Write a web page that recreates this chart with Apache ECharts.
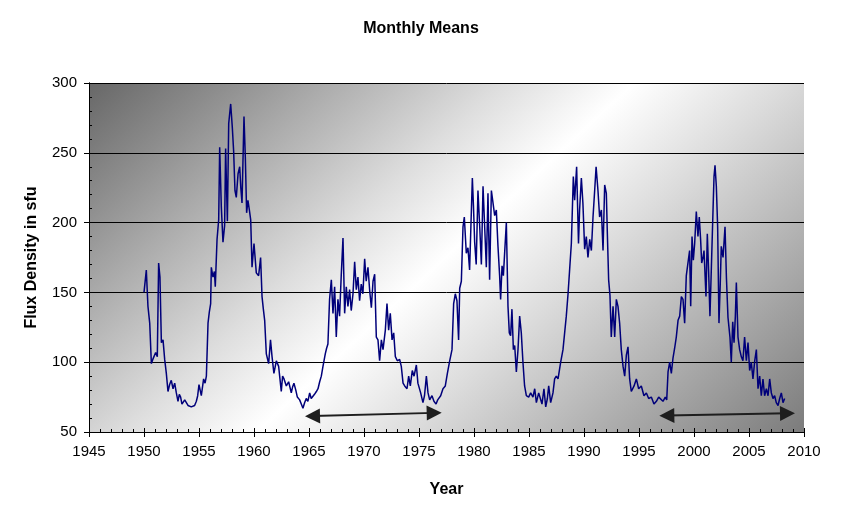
<!DOCTYPE html>
<html>
<head>
<meta charset="utf-8">
<script src="https://cdn.jsdelivr.net/npm/echarts@6/dist/echarts.min.js"></script>
<style>
html,body{margin:0;padding:0;background:#fff;}
#chart{width:842px;height:509px;}
</style>
</head>
<body>
<div id="chart"></div>
<script>
// ---- data (decimal year, flux in sfu) ----
const years = [
1950.00,1950.21,1950.36,1950.52,1950.67,1950.80,1950.97,1951.06,1951.21,1951.33,1951.45,1951.58,1951.73,1951.88,
1952.03,1952.18,1952.33,1952.48,1952.64,1952.79,1952.94,1953.09,1953.21,1953.33,1953.45,1953.55,1953.70,1953.85,
1954.00,1954.15,1954.30,1954.45,1954.60,1954.76,1954.88,1955.00,1955.21,1955.42,1955.55,1955.67,1955.82,1955.94,
1956.06,1956.12,1956.27,1956.40,1956.48,1956.64,1956.79,1956.88,1957.03,1957.18,1957.33,1957.42,1957.58,1957.70,
1957.88,1958.03,1958.15,1958.27,1958.39,1958.55,1958.70,1958.80,1958.91,1959.09,1959.21,1959.33,1959.45,1959.58,
1959.70,1959.82,1960.00,1960.21,1960.42,1960.60,1960.73,1960.85,1960.97,1961.12,1961.33,1961.50,1961.64,1961.81,
1962.03,1962.24,1962.36,1962.48,1962.60,1962.73,1962.94,1963.15,1963.39,1963.50,1963.63,1963.80,1963.94,1964.15,
1964.30,1964.45,1964.60,1964.75,1964.90,1965.06,1965.20,1965.36,1965.50,1965.67,1965.82,1965.97,1966.12,1966.27,
1966.48,1966.60,1966.72,1966.87,1967.03,1967.18,1967.33,1967.48,1967.63,1967.78,1967.93,1968.09,1968.24,1968.39,
1968.54,1968.69,1968.84,1969.00,1969.15,1969.30,1969.45,1969.60,1969.75,1969.90,1970.06,1970.20,1970.36,1970.52,
1970.67,1970.82,1970.97,1971.12,1971.27,1971.42,1971.58,1971.73,1971.94,1972.09,1972.24,1972.39,1972.55,1972.70,
1972.85,1973.03,1973.24,1973.39,1973.55,1973.70,1973.91,1974.06,1974.21,1974.39,1974.55,1974.76,1974.90,1975.15,
1975.36,1975.50,1975.67,1975.82,1975.97,1976.18,1976.36,1976.55,1976.70,1976.97,1977.18,1977.39,1977.58,1977.79,
1978.00,1978.15,1978.30,1978.45,1978.60,1978.70,1978.85,1979.00,1979.12,1979.30,1979.45,1979.60,1979.85,1979.95,
1980.06,1980.20,1980.36,1980.52,1980.67,1980.82,1980.97,1981.12,1981.27,1981.42,1981.58,1981.73,1981.88,1982.03,
1982.18,1982.33,1982.42,1982.55,1982.67,1982.79,1982.94,1983.09,1983.21,1983.33,1983.45,1983.58,1983.70,1983.85,
1984.00,1984.15,1984.30,1984.45,1984.60,1984.76,1984.97,1985.15,1985.36,1985.52,1985.67,1985.88,1986.06,1986.18,
1986.36,1986.52,1986.67,1986.79,1986.97,1987.18,1987.33,1987.48,1987.64,1987.88,1988.09,1988.24,1988.39,1988.55,
1988.70,1988.85,1989.03,1989.15,1989.33,1989.50,1989.60,1989.76,1989.90,1990.06,1990.21,1990.36,1990.52,1990.67,
1990.82,1990.97,1991.10,1991.27,1991.42,1991.58,1991.73,1991.88,1992.03,1992.12,1992.24,1992.36,1992.48,1992.64,
1992.79,1992.94,1993.09,1993.24,1993.39,1993.55,1993.70,1993.85,1994.00,1994.15,1994.30,1994.55,1994.76,1994.97,
1995.21,1995.45,1995.67,1995.88,1996.12,1996.36,1996.58,1996.79,1996.97,1997.18,1997.39,1997.52,1997.64,1997.79,
1997.94,1998.09,1998.24,1998.39,1998.55,1998.70,1998.85,1999.00,1999.15,1999.30,1999.45,1999.60,1999.70,1999.82,
1999.94,2000.06,2000.21,2000.36,2000.48,2000.60,2000.70,2000.82,2000.91,2001.09,2001.21,2001.33,2001.45,2001.58,
2001.73,2001.82,2001.91,2002.03,2002.15,2002.27,2002.39,2002.48,2002.64,2002.82,2002.95,2003.09,2003.27,2003.39,
2003.52,2003.64,2003.76,2003.85,2004.00,2004.15,2004.30,2004.45,2004.60,2004.76,2004.91,2005.06,2005.21,2005.36,
2005.52,2005.67,2005.82,2005.97,2006.12,2006.27,2006.42,2006.58,2006.73,2006.88,2007.03,2007.18,2007.33,2007.48,
2007.64,2007.79,2007.94,2008.09,2008.24
];
const flux = [
150,166,140,128,99,102,101,107,104,171,161,114,116,102,
92,79,84,87,81,85,78,72,77,75,70,70,73,72,
69,68,68,67,69,72,76,84,76,88,85,90,128,136,
142,168,161,165,154,188,202,254,211,186,198,253,201,271,
285,268,251,223,218,235,240,225,214,276,247,207,216,209,
202,168,185,164,162,175,147,138,130,106,99,116,104,92,
101,97,88,79,90,88,83,86,78,82,85,80,75,73,
70,67,71,74,72,78,74,75,77,79,81,86,90,97,
106,110,113,145,159,135,154,118,145,133,162,189,135,154,
140,152,137,149,172,152,161,144,156,149,174,158,168,151,
139,158,163,118,116,101,116,109,123,142,123,135,116,121,
104,101,102,97,85,83,81,90,83,94,90,98,85,78,
71,76,90,78,73,76,72,70,73,76,81,83,92,101,
109,142,149,144,116,153,158,197,204,178,182,166,232,212,
186,170,223,197,170,226,227,168,221,159,223,222,205,209,
183,162,145,169,162,161,200,140,121,119,138,109,112,93,
109,133,121,100,83,76,75,78,75,81,71,78,77,70,
81,68,74,83,71,78,88,90,88,100,109,121,133,149,
167,185,233,216,240,185,209,232,214,181,190,175,188,180,
204,223,240,223,204,209,180,227,221,193,159,148,118,140,
118,145,140,128,109,97,90,105,111,88,79,83,88,81,
83,76,78,74,75,70,72,75,76,72,75,73,93,100,
92,103,110,118,130,133,147,145,128,162,162,180,140,190,
173,185,208,190,204,188,171,175,180,147,192,165,133,168,
209,233,241,226,197,128,157,183,175,197,160,132,118,100,
129,114,133,157,118,109,104,101,118,101,114,94,100,88,
101,109,81,90,76,88,76,81,76,88,78,74,76,71,
69,74,78,71,74
];
// axis ticks
const xTicks = {min: 1945, max: 2010, step: 5};
const yTicks = {min: 50, max: 300, step: 50};
// annotation arrows (start / end in data coordinates)
const arrowFrom = [[1965.32, 61.4], [1997.53, 61.8]];
const arrowTo   = [[1976.38, 63.7], [2008.50, 63.4]];

const points = years.map((y, i) => [y, flux[i]]);

const chart = echarts.init(document.getElementById('chart'), null, {renderer: 'canvas'});
const FONT = '"Liberation Sans", Arial, Helvetica, sans-serif';

const bg = new echarts.graphic.LinearGradient(195, -15, 697, 529, [
  {offset: 0.00, color: '#676767'},
  {offset: 0.12, color: '#8c8c8c'},
  {offset: 0.22, color: '#acacac'},
  {offset: 0.38, color: '#dedede'},
  {offset: 0.50, color: '#ffffff'},
  {offset: 0.64, color: '#dcdcdc'},
  {offset: 0.85, color: '#a4a4a4'},
  {offset: 1.00, color: '#7c7c7c'}
], true);

const baseX = {
  type: 'value', min: xTicks.min, max: xTicks.max, interval: xTicks.step,
  position: 'bottom',
  axisLine: {show: true, lineStyle: {color: '#000', width: 1}},
  splitLine: {show: false}
};
const baseY = {
  type: 'value', min: yTicks.min, max: yTicks.max, interval: yTicks.step,
  position: 'left',
  axisLine: {show: true, lineStyle: {color: '#000', width: 1}}
};

chart.setOption({
  animation: false,
  backgroundColor: '#ffffff',
  textStyle: {fontFamily: FONT},
  title: {
    text: 'Monthly Means', left: 'center', top: 16,
    textStyle: {fontFamily: FONT, fontSize: 16, fontWeight: 'bold', color: '#000'}
  },
  grid: {
    left: 89, right: 38, top: 83, bottom: 77,
    show: true, backgroundColor: bg, borderWidth: 0
  },
  xAxis: [
    Object.assign({}, baseX, {
      name: 'Year', nameLocation: 'middle', nameGap: 50,
      nameTextStyle: {fontFamily: FONT, fontSize: 16, fontWeight: 'bold', color: '#000'},
      axisTick: {show: true, inside: true, length: 4, lineStyle: {color: '#000'}},
      minorTick: {show: true, splitNumber: 5, length: 3, lineStyle: {color: '#000'}},
      axisLabel: {show: true, margin: 12, color: '#000', fontFamily: FONT, fontSize: 15,
                  formatter: v => String(v)}
    }),
    Object.assign({}, baseX, {
      axisTick: {show: true, inside: false, length: 5, lineStyle: {color: '#000'}},
      axisLabel: {show: false}
    })
  ],
  yAxis: [
    Object.assign({}, baseY, {
      name: 'Flux Density in sfu', nameLocation: 'middle', nameGap: 49,
      nameTextStyle: {fontFamily: FONT, fontSize: 16, fontWeight: 'bold', color: '#000'},
      axisTick: {show: true, inside: true, length: 4, lineStyle: {color: '#000'}},
      minorTick: {show: true, splitNumber: 5, length: 3, lineStyle: {color: '#000'}},
      axisLabel: {show: true, margin: 12, color: '#000', fontFamily: FONT, fontSize: 15,
                  formatter: v => String(v)},
      splitLine: {show: true, lineStyle: {color: '#000', width: 1}}
    }),
    Object.assign({}, baseY, {
      axisTick: {show: true, inside: false, length: 5, lineStyle: {color: '#000'}},
      axisLabel: {show: false},
      splitLine: {show: false}
    })
  ],
  series: [{
    type: 'line',
    xAxisIndex: 0, yAxisIndex: 0,
    data: points,
    showSymbol: false,
    symbol: 'none',
    lineStyle: {color: '#00007a', width: 1.5},
    z: 3,
    markLine: {
      silent: true,
      symbol: ['triangle', 'triangle'],
      symbolSize: [15, 15],
      label: {show: false},
      lineStyle: {color: '#1e1e1e', width: 2, type: 'solid'},
      itemStyle: {color: '#000'},
      data: arrowFrom.map((p, i) => [{coord: p}, {coord: arrowTo[i]}])
    }
  }]
});
</script>
</body>
</html>
